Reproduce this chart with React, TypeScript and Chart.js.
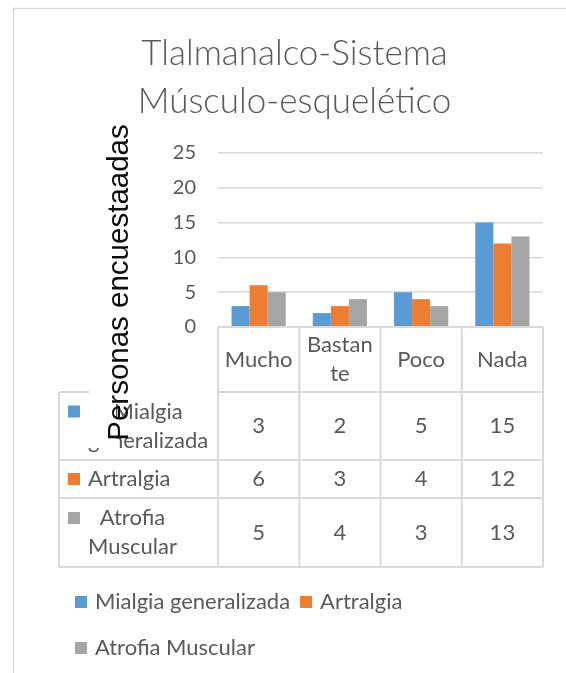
import React, { useEffect, useRef } from "react";
import { Chart, registerables } from "chart.js";

Chart.register(...registerables);

// ---------- data ----------
const TITLE_LINES = ["Tlalmanalco-Sistema", "Músculo-esquelético"];
const Y_AXIS_TITLE = "Personas encuestaadas";
const CATEGORIES = ["Mucho", "Bastante", "Poco", "Nada"];
const SERIES_NAMES = ["Mialgia generalizada", "Artralgia", "Atrofia Muscular"];
const MIALGIA = [3, 2, 5, 15];
const ARTRALGIA = [6, 3, 4, 12];
const ATROFIA = [5, 4, 3, 13];
const SERIES_VALUES = [MIALGIA, ARTRALGIA, ATROFIA];
const SERIES_COLORS = ["#5B9BD5", "#ED7D31", "#A5A5A5"];
const Y_MIN = 0;
const Y_MAX = 25;
const Y_STEP = 5;

// ---------- styling ----------
const W = 566;
const H = 673;
const TEXT = "#595959";
const LINE = "#d9d9d9";
const FONT = "Lato, 'Open Sans', sans-serif";
const BODY_SIZE = 22;

function wrapText(ctx: CanvasRenderingContext2D, text: string, maxW: number, breakWords: boolean): string[] {
  const words = text.split(" ");
  const lines: string[] = [];
  let cur = "";
  for (const w of words) {
    const t = cur ? cur + " " + w : w;
    if (!cur || ctx.measureText(t).width <= maxW) cur = t;
    else {
      lines.push(cur);
      cur = w;
    }
  }
  if (cur) lines.push(cur);
  if (!breakWords) return lines;
  const out: string[] = [];
  for (const l of lines) {
    if (ctx.measureText(l).width <= maxW) {
      out.push(l);
      continue;
    }
    let s = "";
    for (const ch of l) {
      if (s && ctx.measureText(s + ch).width > maxW) {
        out.push(s);
        s = ch;
      } else s += ch;
    }
    out.push(s);
  }
  return out;
}

const decorPlugin = {
  id: "decor",
  beforeDraw(chart: any) {
    const ctx: CanvasRenderingContext2D = chart.ctx;
    ctx.save();
    ctx.fillStyle = "#ffffff";
    ctx.fillRect(0, 0, chart.width, chart.height);
    // outer frame
    ctx.strokeStyle = LINE;
    ctx.lineWidth = 1.5;
    ctx.beginPath();
    ctx.moveTo(13.5, chart.height);
    ctx.lineTo(13.5, 8.5);
    ctx.lineTo(chart.width, 8.5);
    ctx.stroke();
    ctx.restore();
  },
  afterDraw(chart: any) {
    const ctx: CanvasRenderingContext2D = chart.ctx;
    const area = chart.chartArea;
    const xs = chart.scales.x;
    const n = CATEGORIES.length;
    const catW = (area.right - area.left) / n;

    ctx.save();
    // ---- title ----
    ctx.fillStyle = TEXT;
    ctx.font = `300 35px ${FONT}`;
    ctx.textAlign = "center";
    ctx.textBaseline = "alphabetic";
    TITLE_LINES.forEach((t, i) => ctx.fillText(t, 294.5, 65 + i * 48));

    // ---- data table ----
    const rowH = [65, 68, 38, 69];
    const ys = [area.bottom];
    rowH.forEach((h) => ys.push(ys[ys.length - 1] + h));
    const legendLeft = 59;

    ctx.strokeStyle = LINE;
    ctx.lineWidth = 2;
    const seg = (x1: number, y1: number, x2: number, y2: number) => {
      ctx.beginPath();
      ctx.moveTo(x1, y1);
      ctx.lineTo(x2, y2);
      ctx.stroke();
    };
    const colEdges: number[] = [];
    for (let i = 0; i < n; i++) colEdges.push(xs.getPixelForValue(i) - catW / 2);
    colEdges.push(xs.getPixelForValue(n - 1) + catW / 2);
    colEdges.forEach((cx) => seg(cx, ys[0], cx, ys[4]));
    seg(area.left, ys[0], area.right, ys[0]);
    seg(legendLeft, ys[1], 90, ys[1]);
    seg(area.left, ys[1], area.right, ys[1]);
    for (let r = 2; r <= 4; r++) seg(legendLeft, ys[r], area.right, ys[r]);
    seg(legendLeft, ys[1], legendLeft, ys[4]);

    ctx.font = `${BODY_SIZE}px ${FONT}`;
    ctx.fillStyle = TEXT;
    ctx.textBaseline = "middle";
    ctx.textAlign = "center";
    const lh = 29;
    // header
    CATEGORIES.forEach((c, i) => {
      const cx = (colEdges[i] + colEdges[i + 1]) / 2;
      const lines = wrapText(ctx, c, 69.5, true);
      const cy = (ys[0] + ys[1]) / 2;
      lines.forEach((l, k) => ctx.fillText(l, cx, cy + (k - (lines.length - 1) / 2) * lh));
    });
    // rows
    SERIES_NAMES.forEach((name, r) => {
      const cy = (ys[r + 1] + ys[r + 2]) / 2;
      const lines = wrapText(ctx, name, 118, false);
      const widths = lines.map((l) => ctx.measureText(l).width);
      const maxW = Math.max(...widths);
      const textLeft = legendLeft + 29;
      const firstY = cy - ((lines.length - 1) / 2) * lh;
      ctx.fillStyle = SERIES_COLORS[r];
      ctx.fillRect(legendLeft + 9, firstY - 6, 12, 12);
      ctx.fillStyle = TEXT;
      ctx.textAlign = "center";
      lines.forEach((l, k) => ctx.fillText(l, textLeft + maxW / 2, firstY + k * lh));
      SERIES_VALUES[r].forEach((v, i) => {
        const cx = (colEdges[i] + colEdges[i + 1]) / 2;
        ctx.fillText(String(v), cx, cy);
      });
    });

    // ---- legend ----
    let lx = 75;
    let ly = 602;
    SERIES_NAMES.forEach((name, i) => {
      const tw = ctx.measureText(name).width;
      if (lx + 20 + tw > W - 13 && lx > 75) {
        lx = 75;
        ly += 46;
      }
      ctx.fillStyle = SERIES_COLORS[i];
      ctx.fillRect(lx, ly - 6, 12, 12);
      ctx.fillStyle = TEXT;
      ctx.textAlign = "left";
      ctx.fillText(name, lx + 20, ly);
      lx += 20 + tw + 10;
    });

    // ---- y axis title (overlapping, with white box) ----
    ctx.fillStyle = "#ffffff";
    ctx.fillRect(89, 122, 27, 326);
    ctx.save();
    ctx.translate(120, 282.5);
    ctx.rotate(-Math.PI / 2);
    ctx.fillStyle = "#0d0d0d";
    ctx.font = `29.5px 'Liberation Sans', Arial, sans-serif`;
    ctx.textAlign = "center";
    ctx.textBaseline = "middle";
    ctx.fillText(Y_AXIS_TITLE, 0, 0);
    ctx.restore();

    ctx.restore();
  },
};

export default function App() {
  const ref = useRef<HTMLCanvasElement | null>(null);
  useEffect(() => {
    if (!ref.current) return;
    const chart = new Chart(ref.current, {
      type: "bar",
      data: {
        labels: CATEGORIES,
        datasets: SERIES_NAMES.map((name, i) => ({
          label: name,
          data: SERIES_VALUES[i],
          backgroundColor: SERIES_COLORS[i],
          borderWidth: 0,
          categoryPercentage: 0.667,
          barPercentage: 1,
        })),
      },
      options: {
        responsive: false,
        animation: false,
        devicePixelRatio: 1,
        layout: { padding: { top: 153, right: 23, left: 0, bottom: 0 } },
        plugins: {
          legend: { display: false },
          title: { display: false },
          tooltip: { enabled: false },
        },
        scales: {
          x: {
            display: true,
            grid: { display: false },
            border: { display: false },
            ticks: { display: false },
            afterFit: (s: any) => {
              s.height = 346;
            },
          },
          y: {
            min: Y_MIN,
            max: Y_MAX,
            ticks: {
              stepSize: Y_STEP,
              color: TEXT,
              padding: 22,
              font: { family: FONT, size: 20 },
            },
            grid: { color: LINE, lineWidth: 1.5, drawTicks: false },
            border: { display: false },
            afterFit: (s: any) => {
              s.width = 218;
            },
          },
        },
      },
      plugins: [decorPlugin],
    });
    return () => chart.destroy();
  }, []);
  return (
    <div style={{ position: "absolute", left: 0, top: 0, width: W, height: H }}>
      <canvas ref={ref} width={W} height={H} style={{ width: W, height: H, display: "block" }} />
    </div>
  );
}
